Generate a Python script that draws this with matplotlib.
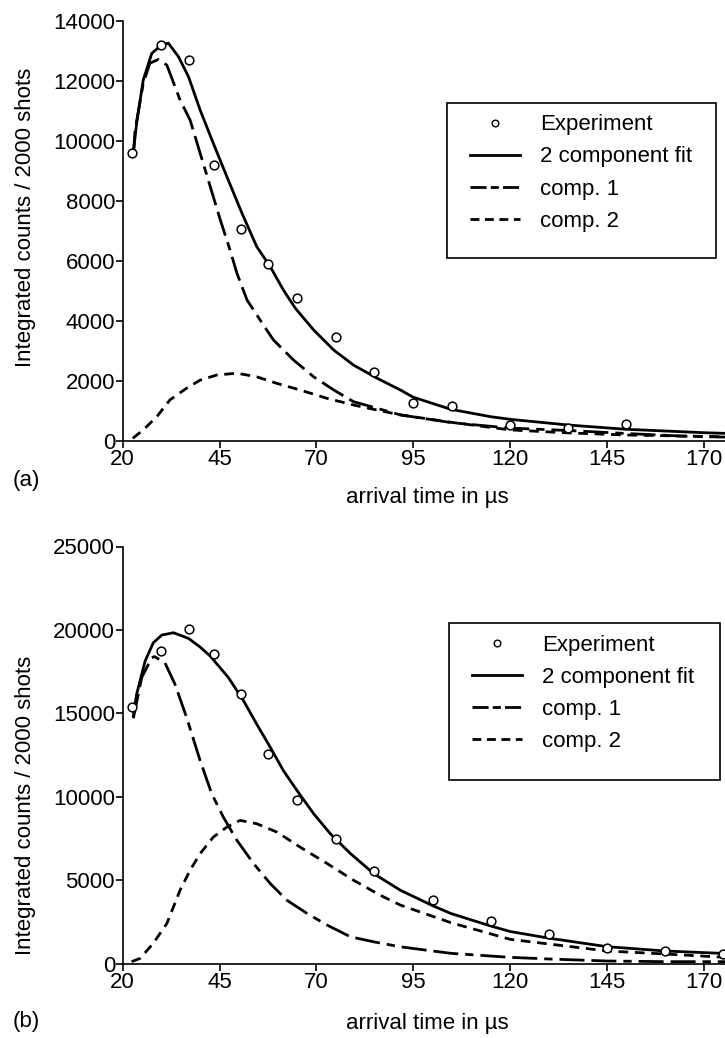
import matplotlib
matplotlib.use("Agg")
import matplotlib.pyplot as plt
from matplotlib.lines import Line2D
from matplotlib.patches import Rectangle

plt.rcParams['font.family'] = ['Liberation Sans', 'DejaVu Sans']

# ---------------- data: panel (a) ----------------
t_exp_a = [22.5, 30, 37, 43.5, 50.5, 57.5, 65, 75, 85, 95, 105, 120, 135, 150]
y_exp_a = [9600, 13200, 12700, 9200, 7050, 5880, 4750, 3450, 2280, 1250, 1150, 520, 410, 540]

t_fit_a = [22.75, 23.6, 25.3, 27.5, 30, 31.8, 34.4, 37.0, 40.0, 43.4, 46.9, 50.8, 54.6, 58.1,
           61.5, 64.6, 69.3, 74.5, 79.6, 85.7, 91.7, 95, 104.7, 115, 120, 135, 150, 170, 175.5]
y_fit_a = [9630, 10580, 12020, 12910, 13190, 13250, 12800, 12130, 11020, 9910, 8800, 7580, 6470, 5800,
           5020, 4410, 3690, 3020, 2520, 2080, 1690, 1450, 1047, 800, 713, 523, 380, 267, 245]

t_c1_a = [22.75, 23.2, 25.3, 27.0, 29.2, 31.4, 34.8, 37.4, 40.0, 42.6, 45.2, 47.7, 49.5, 52.1, 55.5,
          58.9, 64.1, 69.3, 74.5, 79.6, 85.7, 91.7, 105, 120, 135, 150, 165, 175.5]
y_c1_a = [9500, 10360, 11910, 12580, 12710, 12520, 11360, 10690, 9580, 8470, 7360, 6360, 5580, 4690, 4020,
          3360, 2690, 2130, 1690, 1300, 1080, 860, 600, 420, 340, 240, 150, 120]

t_c2_a = [22.6, 25.3, 28.8, 32.2, 36.5, 40.0, 44.3, 49.5, 54.6, 59.8, 65.8, 72.8, 79.6, 85.7, 91.7,
          105, 120, 135, 150, 175.5]
y_c2_a = [80, 360, 800, 1360, 1750, 2020, 2190, 2250, 2130, 1910, 1690, 1410, 1190, 1020, 860,
          610, 360, 260, 190, 130]

# ---------------- data: panel (b) ----------------
t_exp_b = [22.5, 30, 37, 43.5, 50.5, 57.5, 65, 75, 85, 100, 115, 130, 145, 160, 175]
y_exp_b = [15400, 18750, 20050, 18550, 16150, 12550, 9780, 7450, 5520, 3820, 2550, 1790, 910, 730, 540]

t_fit_b = [22.75, 23.6, 25.8, 27.9, 30.1, 33.1, 37.0, 40.0, 42.6, 47.3, 51.2, 54.6, 58.1, 61.5, 65.0,
           69.3, 73.6, 78.8, 84.8, 91.7, 100, 104.7, 115, 120, 130, 145, 160, 175.5]
y_fit_b = [14850, 16150, 18140, 19230, 19690, 19830, 19490, 18970, 18430, 17140, 15750, 14350, 12960, 11560, 10370,
           8980, 7780, 6590, 5390, 4390, 3470, 3000, 2250, 1920, 1520, 1010, 750, 600]

t_c1_b = [22.75, 24.9, 27.5, 28.2, 30.9, 33.5, 36.5, 40.0, 43.0, 46.0, 49.5, 53.8, 58.1, 62.4, 67.6,
          72.8, 78.8, 84.8, 91.7, 104.7, 120, 130, 145, 160, 175.5]
y_c1_b = [14700, 17140, 18330, 18400, 18030, 16740, 14750, 12160, 10170, 8770, 7380, 5990, 4790, 3790, 3000,
          2300, 1600, 1300, 1000, 610, 370, 270, 150, 110, 110]

t_c2_b = [22.3, 24.5, 27.9, 31.4, 33.1, 34.8, 37.4, 40.0, 43.4, 46.9, 50.3, 54.6, 59.8, 65.8, 72.8,
          79.6, 86.5, 91.7, 104.7, 120, 130, 145, 160, 175.5]
y_c2_b = [110, 310, 1210, 2400, 3390, 4390, 5590, 6590, 7580, 8180, 8580, 8380, 7880, 6980, 5990,
          4990, 4090, 3500, 2450, 1450, 1170, 750, 570, 370]

x_ticks = [20, 45, 70, 95, 120, 145, 170]
legend_labels = ["Experiment", "2 component fit", "comp. 1", "comp. 2"]
ylabel = "Integrated counts / 2000 shots"
xlabel = "arrival time in \u00b5s"

W, H = 725, 1038
FS = 16
LW = 2.0
C1_DASH = (9, 2.5, 9, 2.5, 3, 2.5)
C2_DASH = (3.5, 2.4)

fig = plt.figure(figsize=(W / 100, H / 100), dpi=100)
fig.patch.set_facecolor('white')


def fx(px):
    return px / W


def fy(py):
    return 1 - py / H


def panel(ax, te, ye, tf, yf, t1, y1, t2, y2, ymax, ystep, leg_box, leg_anchor):
    ax.plot(tf, yf, color='k', lw=LW, solid_joinstyle='miter', zorder=2)
    ax.plot(t1, y1, color='k', lw=LW, dashes=C1_DASH, zorder=2)
    ax.plot(t2, y2, color='k', lw=LW, dashes=C2_DASH, zorder=2)
    ax.plot(te, ye, ls='none', marker='o', ms=6.3, mfc='white', mec='k', mew=1.1, zorder=4)
    ax.set_xlim(20, 175.5)
    ax.set_ylim(0, ymax)
    ax.set_xticks(x_ticks)
    ax.set_yticks(list(range(0, ymax + 1, ystep)))
    for s in ['top', 'right']:
        ax.spines[s].set_visible(False)
    for s in ['left', 'bottom']:
        ax.spines[s].set_linewidth(1.2)
    ax.tick_params(direction='out', length=5, width=1.2, labelsize=FS)
    ax.tick_params(axis='y', pad=0.5)
    ax.tick_params(axis='x', pad=1.0)

    x0, y0, x1, y1b = leg_box
    ax.add_patch(Rectangle((fx(x0), fy(y1b)), fx(x1) - fx(x0), fy(y0) - fy(y1b),
                           transform=fig.transFigure, fc='white', ec='k', lw=1.2,
                           clip_on=False, zorder=4.5))
    handles = [
        Line2D([], [], ls='none', marker='o', ms=4.8, mfc='white', mec='k', mew=1.0),
        Line2D([], [], color='k', lw=LW),
        Line2D([], [], color='k', lw=LW, dashes=(5.8, 1.5, 2.9, 1.5)),
        Line2D([], [], color='k', lw=LW, dashes=(3.2, 2.0)),
    ]
    leg = ax.legend(handles, legend_labels, loc='upper left',
                    bbox_to_anchor=(fx(leg_anchor[0]), fy(leg_anchor[1])),
                    bbox_transform=fig.transFigure, frameon=False, borderpad=0,
                    borderaxespad=0, handlelength=2.25, handletextpad=0.9,
                    labelspacing=0.5, fontsize=FS)
    leg.set_zorder(6)


ax1 = fig.add_axes([fx(122.7), fy(440.7), 1 - fx(122.7), 420 / H])
panel(ax1, t_exp_a, y_exp_a, t_fit_a, y_fit_a, t_c1_a, y_c1_a, t_c2_a, y_c2_a,
      14000, 2000, (447, 103, 716, 258), (470, 114.3))

ax2 = fig.add_axes([fx(122.7), fy(963.5), 1 - fx(122.7), 417 / H])
panel(ax2, t_exp_b, y_exp_b, t_fit_b, y_fit_b, t_c1_b, y_c1_b, t_c2_b, y_c2_b,
      25000, 5000, (449, 623, 720, 780), (472, 634.6))

fig.text(fx(26), fy(217), ylabel, rotation=90, ha='center', va='center', fontsize=FS)
fig.text(fx(26), fy(805), ylabel, rotation=90, ha='center', va='center', fontsize=FS)
fig.text(fx(427), fy(503), xlabel, ha='center', va='baseline', fontsize=FS)
fig.text(fx(427), fy(1029), xlabel, ha='center', va='baseline', fontsize=FS)
fig.text(fx(13), fy(486), '(a)', ha='left', va='baseline', fontsize=FS)
fig.text(fx(13), fy(1027.5), '(b)', ha='left', va='baseline', fontsize=FS)

fig.savefig('out.png', dpi=100)
